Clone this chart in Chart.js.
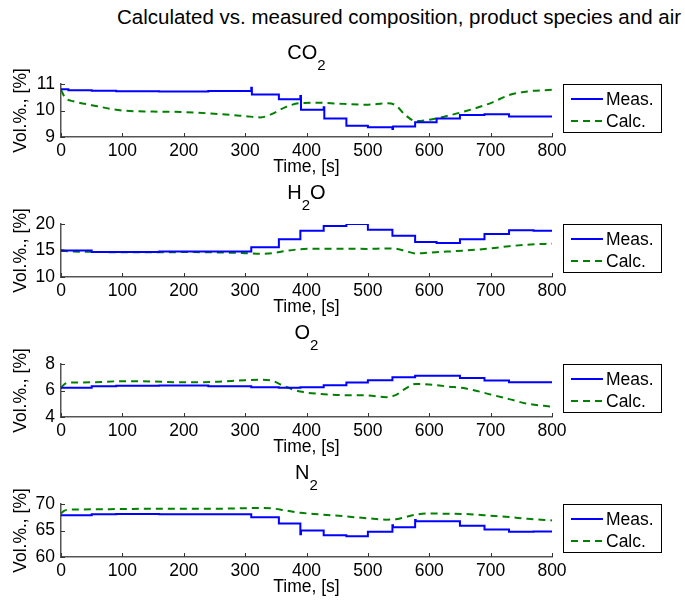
<!DOCTYPE html>
<html>
<head>
<meta charset="utf-8">
<title>Calculated vs. measured composition</title>
<script src="https://cdn.jsdelivr.net/npm/chart.js@4.4.1/dist/chart.umd.min.js"></script>
<style>
  body { margin: 0; background: #fff; }
  #page { position: relative; width: 685px; height: 605px; overflow: hidden; }
  #main-title {
    position: absolute; top: 5px; left: 399px; transform: translateX(-50%);
    white-space: nowrap; font: 20.5px 'Liberation Sans', Arial, sans-serif; color: #000;
  }
  .panel { position: absolute; left: 0; width: 685px; height: 140px; }
</style>
</head>
<body>
<div id="page">
  <div id="main-title">Calculated vs. measured composition, product species and air</div>
  <div class="panel" style="top:40px"><canvas id="co2"></canvas></div>
  <div class="panel" style="top:180px"><canvas id="h2o"></canvas></div>
  <div class="panel" style="top:320px"><canvas id="o2"></canvas></div>
  <div class="panel" style="top:460px"><canvas id="n2"></canvas></div>
</div>
<script>
// measured values are logged as steps (value holds until the next time stamp)
const measT = [0, 12, 50, 90, 160, 240, 310, 311, 355, 390, 391, 428, 429, 465, 500, 540, 541, 577, 578, 612, 650, 690, 730, 770, 800];
const co2Meas = [10.8, 10.76, 10.75, 10.73, 10.72, 10.74, 10.86, 10.6, 10.42, 10.55, 10.03, 10.12, 9.7, 9.42, 9.37, 9.3, 9.4, 9.56, 9.56, 9.7, 9.83, 9.86, 9.77, 9.77, 9.77];
const h2oMeas = [15.0, 15.0, 14.7, 14.7, 14.8, 14.8, 15.6, 15.6, 17.1, 18.75, 18.75, 19.6, 19.6, 20.0, 18.9, 17.8, 17.8, 16.6, 16.6, 16.4, 17.1, 18.1, 18.8, 18.75, 18.75];
const o2Meas = [6.2, 6.2, 6.33, 6.35, 6.38, 6.33, 6.25, 6.25, 6.2, 6.25, 6.25, 6.4, 6.4, 6.6, 6.78, 7.0, 7.0, 7.12, 7.12, 7.12, 6.95, 6.75, 6.62, 6.62, 6.62];
const n2Meas = [67.9, 67.9, 68.05, 68.1, 68.05, 68.05, 67.5, 67.5, 66.3, 64.3, 65.0, 64.1, 64.1, 63.9, 64.75, 66.0, 65.6, 67.0, 66.75, 66.75, 65.9, 65.2, 64.75, 64.8, 64.8];

// model output
const calcT = [0, 5, 10, 20, 50, 100, 150, 200, 250, 300, 325, 345, 365, 390, 420, 460, 500, 530, 545, 560, 578, 600, 630, 660, 700, 730, 760, 800];
const co2Calc = [10.78, 10.55, 10.42, 10.35, 10.2, 10.0, 9.96, 9.94, 9.88, 9.79, 9.74, 9.88, 10.12, 10.28, 10.29, 10.25, 10.22, 10.27, 10.2, 9.85, 9.6, 9.65, 9.8, 9.98, 10.28, 10.58, 10.72, 10.78];
const h2oCalc = [15.1, 14.95, 14.85, 14.8, 14.75, 14.65, 14.65, 14.7, 14.65, 14.5, 14.4, 14.5, 14.9, 15.25, 15.35, 15.35, 15.3, 15.4, 15.35, 14.95, 14.45, 14.6, 14.8, 15.0, 15.4, 15.8, 16.1, 16.3];
const o2Calc = [6.2, 6.45, 6.58, 6.6, 6.62, 6.7, 6.68, 6.62, 6.65, 6.78, 6.82, 6.72, 6.3, 5.92, 5.75, 5.65, 5.63, 5.5, 5.65, 6.1, 6.5, 6.45, 6.3, 6.15, 5.7, 5.35, 5.0, 4.78];
const n2Calc = [68.2, 68.7, 68.9, 68.95, 69.0, 69.05, 69.1, 69.1, 69.1, 69.2, 69.25, 69.15, 68.8, 68.35, 68.05, 67.7, 67.3, 67.05, 67.1, 67.5, 68.0, 68.2, 68.15, 68.1, 67.8, 67.55, 67.2, 66.9];

const legendLabels = ['Meas.', 'Calc.'];
const FONT = "'Liberation Sans', Arial, sans-serif";
const BLUE = '#0000ff', GREEN = '#008000';

const toXY = (ts, vs) => ts.map((t, i) => ({ x: t, y: vs[i] }));

// titles, inward ticks, axis labels and boxed legend
const panelDecor = {
  id: 'panelDecor',
  afterDraw(chart, args, opts) {
    const { ctx, chartArea: a, scales: { x, y } } = chart;
    ctx.save();

    ctx.strokeStyle = '#333';
    ctx.lineWidth = 1;
    x.ticks.forEach((t, i) => {
      const px = Math.round(x.getPixelForTick(i)) + 0.5;
      ctx.beginPath(); ctx.moveTo(px, a.bottom); ctx.lineTo(px, a.bottom - 4); ctx.stroke();
    });
    y.ticks.forEach((t, i) => {
      const py = Math.round(y.getPixelForTick(i)) + 0.5;
      ctx.beginPath(); ctx.moveTo(a.left, py); ctx.lineTo(a.left + 4, py); ctx.stroke();
    });

    ctx.fillStyle = '#000';
    ctx.textBaseline = 'middle';
    // species name with subscript
    const base = opts.name, sub = '2', tail = opts.tail || '';
    ctx.font = '20px ' + FONT;
    const wBase = ctx.measureText(base).width, wTail = ctx.measureText(tail).width;
    ctx.font = '15px ' + FONT;
    const wSub = ctx.measureText(sub).width;
    const cx = (a.left + a.right) / 2;
    const tx = cx - (wBase + wSub + wTail) / 2;
    const ty = a.top - 31;
    ctx.textAlign = 'left';
    ctx.font = '20px ' + FONT;
    ctx.fillText(base, tx, ty);
    ctx.font = '15px ' + FONT;
    ctx.fillText(sub, tx + wBase, ty + 13);
    ctx.font = '20px ' + FONT;
    ctx.fillText(tail, tx + wBase + wSub, ty);

    // axis titles
    ctx.font = '17.5px ' + FONT;
    ctx.textAlign = 'center';
    ctx.fillText('Time, [s]', cx, a.bottom + 30);
    ctx.save();
    ctx.translate(21, (a.top + a.bottom) / 2);
    ctx.rotate(-Math.PI / 2);
    ctx.fillText('Vol.%., [%]', 0, 0);
    ctx.restore();

    // legend
    const lx = 563, ly = a.top, lw = 98, lh = 48;
    ctx.fillStyle = '#fff';
    ctx.fillRect(lx, ly, lw, lh);
    ctx.strokeStyle = '#000';
    ctx.lineWidth = 1;
    ctx.strokeRect(lx + 0.5, ly + 0.5, lw, lh);
    chart.data.datasets.forEach((ds, i) => {
      const yy = ly + 15 + i * 22;
      ctx.strokeStyle = ds.borderColor;
      ctx.lineWidth = 2;
      ctx.setLineDash(ds.borderDash || []);
      ctx.beginPath(); ctx.moveTo(lx + 8, yy); ctx.lineTo(lx + 40, yy); ctx.stroke();
      ctx.setLineDash([]);
      ctx.fillStyle = '#000';
      ctx.textAlign = 'left';
      ctx.fillText(ds.label, lx + 43, yy + 1);
    });
    ctx.restore();
  }
};

function makePanel(id, name, tail, meas, calc, yMin, yMax, yStep) {
  new Chart(document.getElementById(id), {
    type: 'line',
    data: {
      datasets: [{
        label: legendLabels[0],
        data: toXY(measT, meas),
        borderColor: BLUE,
        borderWidth: 2,
        stepped: true,
        pointRadius: 0
      }, {
        label: legendLabels[1],
        data: toXY(calcT, calc),
        borderColor: GREEN,
        borderWidth: 2,
        borderDash: [7, 5],
        cubicInterpolationMode: 'monotone',
        pointRadius: 0
      }]
    },
    plugins: [panelDecor],
    options: {
      responsive: true,
      maintainAspectRatio: false,
      animation: false,
      events: [],
      layout: { padding: { left: 0, right: 133, top: 44, bottom: 0 } },
      plugins: {
        legend: { display: false },
        title: { display: false },
        tooltip: { enabled: false },
        panelDecor: { name: name, tail: tail }
      },
      scales: {
        x: {
          type: 'linear',
          min: 0, max: 800,
          ticks: { stepSize: 100, color: '#000', padding: 4, font: { family: FONT, size: 17.5 }, maxRotation: 0 },
          grid: { display: false, drawTicks: false },
          border: { display: true, color: '#555', width: 1.5 },
          afterFit(s) { s.height = 43; }
        },
        y: {
          min: yMin, max: yMax,
          ticks: { stepSize: yStep, color: '#000', padding: 6, font: { family: FONT, size: 17.5 } },
          grid: { display: false, drawTicks: false },
          border: { display: true, color: '#555', width: 1.5 },
          afterFit(s) { s.width = 61; }
        }
      }
    }
  });
}

makePanel('co2', 'CO', '', co2Meas, co2Calc, 9, 11, 1);
makePanel('h2o', 'H', 'O', h2oMeas, h2oCalc, 10, 20, 5);
makePanel('o2', 'O', '', o2Meas, o2Calc, 4, 8, 2);
makePanel('n2', 'N', '', n2Meas, n2Calc, 60, 70, 5);
</script>
</body>
</html>
